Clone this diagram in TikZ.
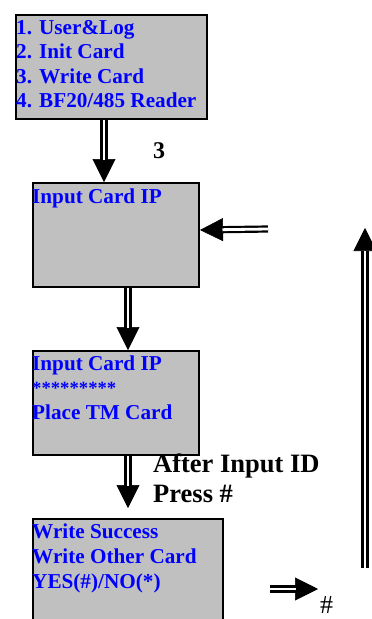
\documentclass[tikz,border=0pt]{standalone}
\usepackage{fontspec}
\setmainfont{Liberation Serif}
\usetikzlibrary{arrows.meta}
\definecolor{boxgray}{RGB}{192,192,192}
\definecolor{txtblue}{RGB}{0,0,255}
\tikzset{
  screen/.style={draw=black, line width=2pt, fill=boxgray, anchor=north west, inner sep=0pt},
  scrtxt/.style={anchor=base west, inner sep=0pt, text=txtblue, font=\fontsize{21.2}{24}\selectfont\bfseries},
  startxt/.style={anchor=base west, inner sep=0pt, text=txtblue, font=\fontsize{18.7}{20}\selectfont\bfseries},
  lbl/.style={anchor=base west, inner sep=0pt, font=\fontsize{26.5}{30}\selectfont\bfseries},
  numlbl/.style={anchor=base west, inner sep=0pt, font=\fontsize{24}{26}\selectfont\bfseries},
  hashlbl/.style={anchor=base west, inner sep=0pt, font=\fontsize{26}{28}\selectfont},
  dshaft/.style={draw=black, double=white, line width=2.2pt, double distance=2.8pt, shorten >=22.5pt},
  dhead/.style={line width=0.6pt, -{Triangle[length=23pt,width=23pt]}},
}
\begin{document}
\begin{tikzpicture}[x=1pt,y=1pt]
\useasboundingbox (0,0) rectangle (372,-619);
% screens
\node[screen, minimum width=191pt, minimum height=104pt] (m) at (15,-14) {};
\node[screen, minimum width=166pt, minimum height=104pt] (a) at (32,-182) {};
\node[screen, minimum width=166pt, minimum height=104pt] (b) at (32,-350) {};
\node[screen, minimum width=190pt, minimum height=130pt] (c) at (32,-518) {};
% texts
\node[scrtxt] (m1) at (16,-34) {1. User\&Log};
\node[scrtxt] (m2) at (16,-58.5) {2. Init Card};
\node[scrtxt] (m3) at (16,-83) {3. Write Card};
\node[scrtxt] (m4) at (16,-107) {4. BF20/485 Reader};
\node[scrtxt] (a1) at (32,-203) {Input Card IP};
\node[scrtxt] (b1) at (32,-370) {Input Card IP};
\node[startxt] (b2) at (32,-394) {*********};
\node[scrtxt] (b3) at (32,-419) {Place TM Card};
\node[scrtxt] (c1) at (32,-538) {Write Success};
\node[scrtxt] (c2) at (32,-563) {Write Other Card};
\node[scrtxt] (c3) at (32,-588) {YES(\#)/NO(*)};
% labels
\node[numlbl] (l3) at (153,-158) {3};
\node[lbl] (la) at (153,-472) {After Input ID};
\node[lbl] (lb) at (153,-502) {Press \#};
\node[hashlbl] (lh) at (320,-613) {\#};
% free ends
\coordinate (inR) at (268,-229);
\coordinate (upS) at (365,-568);
\coordinate (upE) at (365,-228);
\coordinate (hS) at (270,-589);
\coordinate (hE) at (318,-589);
% arrows: heads first, then double shafts
\draw[dhead] ([xshift=-7.5pt]m.south) -- ([xshift=-12pt]a.north);
\draw[dhead] ([xshift=12pt]a.south) -- ([xshift=12pt]b.north);
\draw[dhead] ([xshift=12pt]b.south) -- ([yshift=10pt]c.north);
\draw[dhead] (inR) -- ([yshift=5pt]a.east);
\draw[dhead] (upS) -- (upE);
\draw[dhead] (hS) -- (hE);
\draw[dshaft] ([xshift=-7.5pt]m.south) -- ([xshift=-12pt]a.north);
\draw[dshaft] ([xshift=12pt]a.south) -- ([xshift=12pt]b.north);
\draw[dshaft] ([xshift=12pt]b.south) -- ([yshift=10pt]c.north);
\draw[dshaft] (inR) -- ([yshift=5pt]a.east);
\draw[dshaft] (upS) -- (upE);
\draw[dshaft] (hS) -- (hE);
\end{tikzpicture}
\end{document}
